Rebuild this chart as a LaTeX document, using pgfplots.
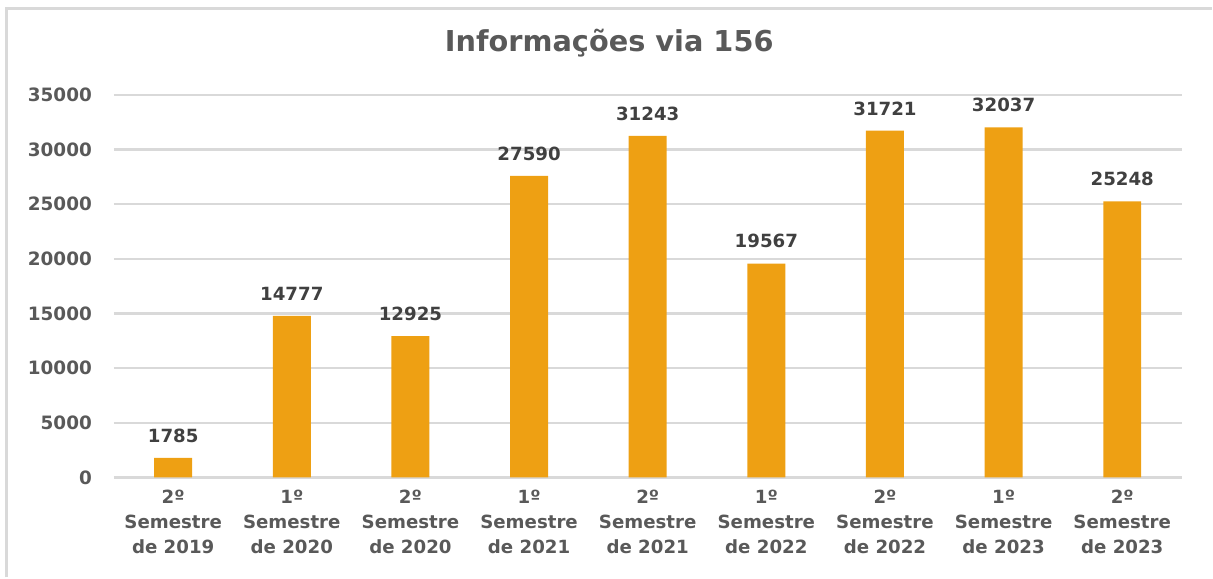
\documentclass[border=0pt]{standalone}
\usepackage{fontspec}
\setmainfont{DejaVu Sans}
\usepackage{pgfplots}
\pgfplotsset{compat=1.18}
\definecolor{barcol}{HTML}{EEA013}
\definecolor{txt}{HTML}{595959}
\definecolor{lbl}{HTML}{404040}
\definecolor{grd}{HTML}{D9D9D9}
\begin{document}
\begin{tikzpicture}
\begin{axis}[
    name=ax,
    scale only axis,
    width=534.5pt, height=191.5pt,
    xmin=-0.5, xmax=8.5,
    ymin=0, ymax=35000,
    ytick={0,5000,...,35000},
    scaled y ticks=false,
    xtick={0,...,8},
    xticklabels={2º\\Semestre\\de 2019, 1º\\Semestre\\de 2020, 2º\\Semestre\\de 2020,
                 1º\\Semestre\\de 2021, 2º\\Semestre\\de 2021, 1º\\Semestre\\de 2022,
                 2º\\Semestre\\de 2022, 1º\\Semestre\\de 2023, 2º\\Semestre\\de 2023},
    xticklabel style={align=center, font=\fontsize{9.1}{12.3}\selectfont\bfseries, text=txt, yshift=-3pt},
    yticklabel style={font=\fontsize{9.2}{10}\selectfont\bfseries, text=txt, xshift=-7.5pt},
    /pgf/number format/.cd, 1000 sep={}, assume math mode=true, /pgfplots/.cd,
    ymajorgrids=true,
    grid style={grd, line width=1.2pt},
    axis line style={draw=none},
    major tick length=0pt,
    ybar, bar width=19pt,
    nodes near coords,
    every node near coord/.append style={font=\fontsize{9.1}{10}\selectfont\bfseries, text=lbl, anchor=south, inner sep=0pt, yshift=7.5pt},
]
\addplot[fill=barcol, draw=none] coordinates {
    (0,1785) (1,14777) (2,12925) (3,27590) (4,31243)
    (5,19567) (6,31721) (7,32037) (8,25248)
};
\end{axis}
\begin{scope}[shift={(ax.south west)}, x=0.5pt, y=-0.5pt]
  \path (-114,-478) rectangle (1099,100);
  \draw[grd, line width=1.5pt] (-107,100) -- (-107,-469) -- (1099,-469);
  \node[font=\fontsize{14.4}{16}\selectfont\bfseries, text=txt] at (496,-435) {Informações via 156};
\end{scope}
\end{tikzpicture}
\end{document}
